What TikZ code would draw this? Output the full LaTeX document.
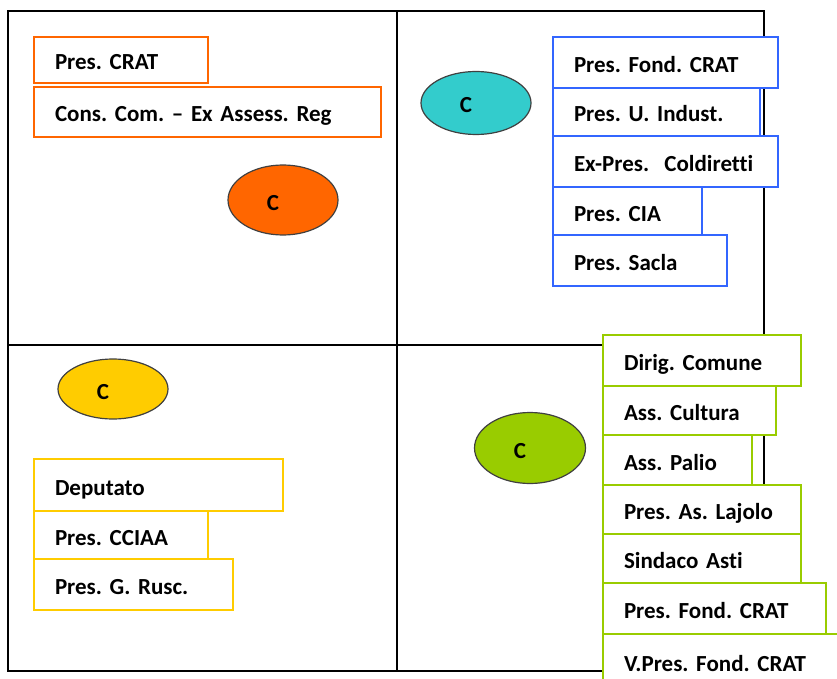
\documentclass[tikz,border=0pt]{standalone}
\usepackage{fontspec}
\setmainfont{Carlito}[Ligatures={NoCommon}]
\usetikzlibrary{shapes.geometric}
\frenchspacing

\definecolor{corange}{HTML}{FF6600}
\definecolor{cblue}{HTML}{3366FF}
\definecolor{cyellow}{HTML}{FFCC00}
\definecolor{cgreen}{HTML}{99CC00}
\definecolor{cteal}{HTML}{33CCCC}
\definecolor{ovalline}{HTML}{404040}

\begin{document}
\begin{tikzpicture}[x=1pt, y=-1pt,
    lbl/.style={rectangle, draw, line width=2pt, fill=white, anchor=north west,
      align=left, inner xsep=21pt, inner ysep=0pt, text height=20pt, text depth=0pt,
      font=\fontsize{23}{27}\selectfont\bfseries\frenchspacing},
    obox/.style={lbl, draw=corange},
    bbox/.style={lbl, draw=cblue},
    ybox/.style={lbl, draw=cyellow},
    gbox/.style={lbl, draw=cgreen},
    oval/.style={ellipse, draw=ovalline, line width=1.2pt, minimum width=110pt,
      text height=20pt, text depth=0pt, font=\fontsize{23}{27}\selectfont\bfseries}]

    \useasboundingbox (0,0) rectangle (837,679);
    \clip (0,0) rectangle (837,679);

    % 枠を描く
    \draw[line width=2pt] (8,11) rectangle (764,671);
    \draw[line width=2pt] (397,11) -- (397,671);
    \draw[line width=2pt] (8,345) -- (764,345);

    % 楕円
    \node[oval, fill=corange, minimum height=70pt] (corng) at (283,200) {C\hspace*{20pt}};
    \node[oval, fill=cteal, minimum height=63pt] (cteal) at (476,103) {C\hspace*{20pt}};
    \node[oval, fill=cyellow, minimum height=60pt] (cyell) at (113,389) {C\hspace*{20pt}};
    \node[oval, fill=cgreen, minimum width=111pt, minimum height=71pt] (cgrn) at (530,448) {C\hspace*{20pt}};

    % 左上
    \node[obox, text width=132pt, minimum height=46pt] (pcrat) at (33,36) {Pres. CRAT};
    \node[obox, text width=305pt, minimum height=50pt] (conscom) at (33,86) {Cons. Com. – Ex Assess. Reg};

    % 右上
    \node[bbox, text width=183pt, minimum height=51pt] (fondcrat) at (552,36) {Pres. Fond. CRAT};
    \node[bbox, text width=165pt, minimum height=48pt] (uindust) at (552,87) {Pres. U. Indust.};
    \node[bbox, text width=183pt, minimum height=51pt] (coldir) at (552,135) {Ex-Pres.\ \ Coldiretti};
    \node[bbox, text width=107pt, minimum height=48pt] (cia) at (552,186) {Pres. CIA};
    \node[bbox, text width=132pt, minimum height=51pt] (sacla) at (552,234) {Pres. Sacla};

    % 左下
    \node[ybox, text width=207pt, minimum height=52pt] (deput) at (33,458) {Deputato};
    \node[ybox, text width=132pt, minimum height=48pt] (cciaa) at (33,510) {Pres. CCIAA};
    \node[ybox, text width=157pt, minimum height=51pt] (grusc) at (33,558) {Pres. G. Rusc.};

    % 右下
    \node[gbox, text width=156pt, minimum height=51pt] (dirig) at (602,334) {Dirig. Comune};
    \node[gbox, text width=131pt, minimum height=49pt] (cultura) at (602,385) {Ass. Cultura};
    \node[gbox, text width=107pt, minimum height=50pt] (palio) at (602,434) {Ass. Palio};
    \node[gbox, text width=156pt, minimum height=49pt] (lajolo) at (602,484) {Pres. As. Lajolo};
    \node[gbox, text width=156pt, minimum height=49pt] (sindaco) at (602,533) {Sindaco Asti};
    \node[gbox, text width=181pt, minimum height=51pt] (gfond) at (602,582) {Pres. Fond. CRAT};
    \node[gbox, text width=203pt, minimum height=55pt] (vpres) at (602,633) {V.Pres. Fond. CRAT};

  \end{tikzpicture}
\end{document}
